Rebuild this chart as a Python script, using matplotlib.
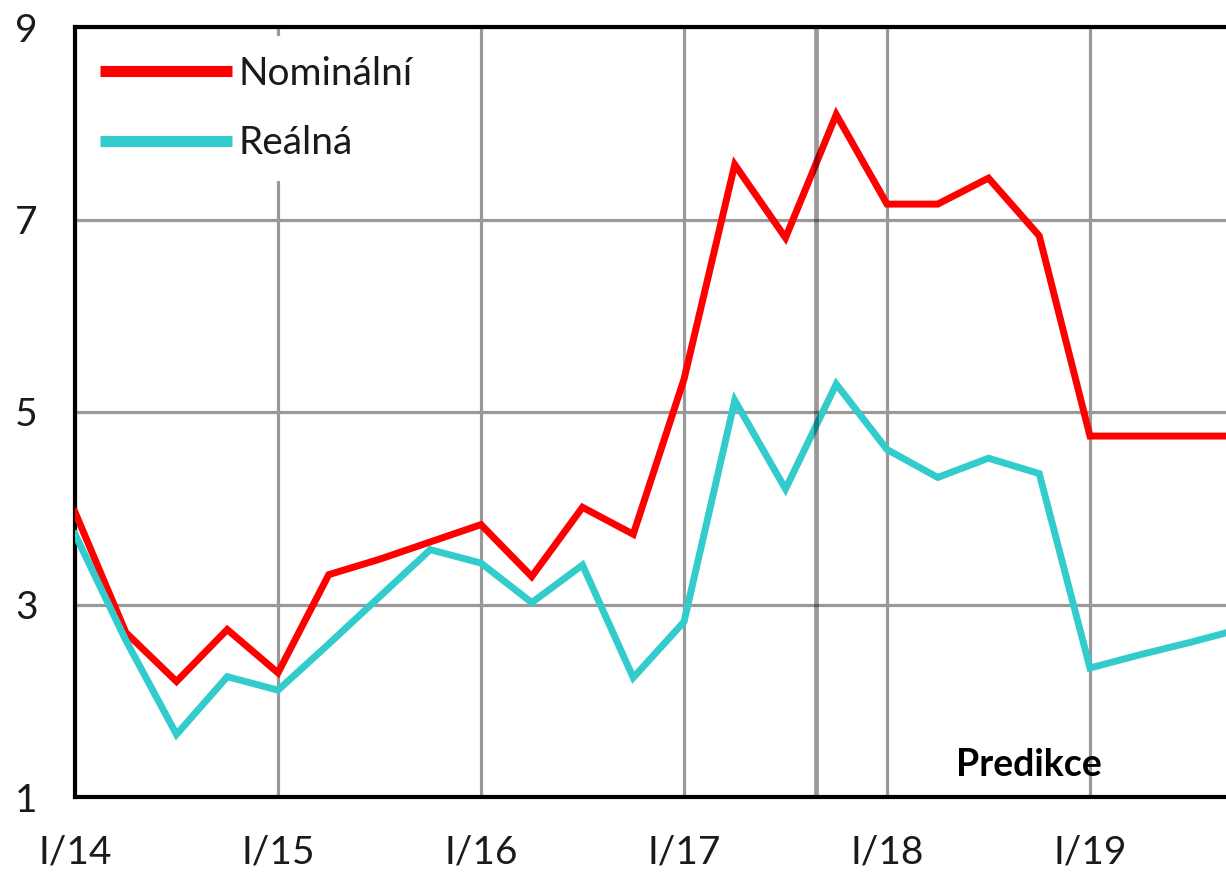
import matplotlib.pyplot as plt
import numpy as np

plt.rcParams['font.family'] = ['Lato', 'DejaVu Sans']

# quarterly data, I/14 onward
nominal = [3.96, 2.71, 2.20, 2.74, 2.29, 3.31, 3.47, 3.65, 3.83, 3.29, 4.01, 3.73,
           5.34, 7.57, 6.81, 8.09, 7.16, 7.16, 7.43, 6.83, 4.75, 4.75, 4.75, 4.75]
real = [3.73, 2.63, 1.65, 2.25, 2.11, 2.59, 3.08, 3.57, 3.43, 3.02, 3.41, 2.24,
        2.82, 5.12, 4.20, 5.29, 4.61, 4.32, 4.52, 4.36, 2.34, 2.48, 2.61, 2.75]
year_labels = ['I/14', 'I/15', 'I/16', 'I/17', 'I/18', 'I/19']
y_ticks = [1, 3, 5, 7, 9]
forecast_start = 14.6  # between III/17 and IV/17

quarters = np.arange(len(nominal))

fig = plt.figure(figsize=(12.26, 8.73), dpi=100)
ax = fig.add_axes([75 / 1226, 1 - 797 / 873, 1151 / 1226, 770 / 873])

ax.plot(quarters, nominal, color='#ff0000', lw=5, label='Nominální', zorder=3,
        solid_joinstyle='miter')
ax.plot(quarters, real, color='#33cccc', lw=5, label='Reálná', zorder=3,
        solid_joinstyle='miter')

# prediction boundary
ax.axvline(forecast_start, color='black', alpha=0.4, lw=3.4, zorder=4)
ax.text(17.35, 1.33, 'Predikce', fontsize=27, fontweight='bold', color='black',
        ha='left', va='center', zorder=4)

ax.set_xlim(0, 1151 / 50.75)
ax.set_ylim(1, 9)
ax.set_xticks(np.arange(len(year_labels)) * 4)
ax.set_xticklabels(year_labels)
ax.set_yticks(y_ticks)
ax.tick_params(length=0, labelsize=28, colors='#1a1a1a')
ax.tick_params(axis='y', pad=27)
ax.tick_params(axis='x', pad=27)

ax.grid(True, color='#999999', lw=2.3, zorder=1)
ax.set_axisbelow(True)

for side in ['left', 'top', 'bottom']:
    ax.spines[side].set_linewidth(3)
    ax.spines[side].set_color('black')
ax.spines['right'].set_visible(False)

leg = ax.legend(loc='upper left', bbox_to_anchor=(6 / 1151, 0.988), fontsize=28,
                frameon=True, facecolor='white', edgecolor='none', framealpha=1,
                fancybox=False, handlelength=3.37, handletextpad=0.18,
                labelspacing=0.86, borderpad=0.5, borderaxespad=0)
leg.set_zorder(5)
for line in leg.get_lines():
    line.set_linewidth(8)
    line.set_solid_capstyle('butt')
for t in leg.get_texts():
    t.set_color('#1a1a1a')

plt.savefig('out.png', dpi=100)
